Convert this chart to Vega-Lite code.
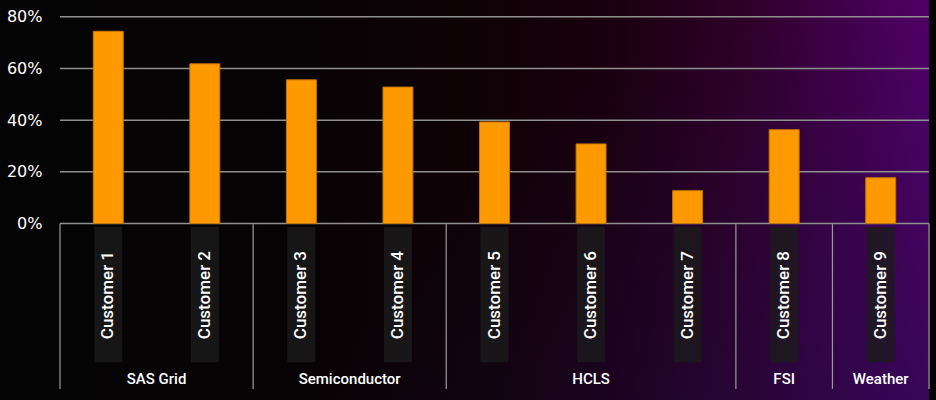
{
  "$schema": "https://vega.github.io/schema/vega-lite/v6.json",
  "width": 869,
  "height": 400,
  "autosize": {"type": "none"},
  "padding": {"left": 60, "top": 0, "right": 7, "bottom": 0},
  "background": "#050405",
  "config": {"view": {"stroke": null}},
  "data": {
    "values": [
      {"customer": "Customer 1", "group": "SAS Grid", "value": 0.744},
      {"customer": "Customer 2", "group": "SAS Grid", "value": 0.618},
      {"customer": "Customer 3", "group": "Semiconductor", "value": 0.556},
      {"customer": "Customer 4", "group": "Semiconductor", "value": 0.528},
      {"customer": "Customer 5", "group": "HCLS", "value": 0.393},
      {"customer": "Customer 6", "group": "HCLS", "value": 0.308},
      {"customer": "Customer 7", "group": "HCLS", "value": 0.127},
      {"customer": "Customer 8", "group": "FSI", "value": 0.363},
      {"customer": "Customer 9", "group": "Weather", "value": 0.177}
    ]
  },
  "layer": [
    {
      "data": {"values": [{}]},
      "mark": {
        "type": "rect",
        "color": {
          "gradient": "linear",
          "x1": 0, "y1": 0, "x2": 1, "y2": 0,
          "stops": [
            {"offset": 0, "color": "#050405"},
            {"offset": 0.28, "color": "#070304"},
            {"offset": 0.5, "color": "#100206"},
            {"offset": 0.62, "color": "#18000d"},
            {"offset": 0.79, "color": "#2f0028"},
            {"offset": 0.92, "color": "#44004f"},
            {"offset": 1, "color": "#510067"}
          ]
        }
      },
      "encoding": {}
    },
    {
      "data": {"values": [{}]},
      "mark": {
        "type": "rect",
        "color": {
          "gradient": "radial",
          "x1": 1, "y1": 1, "r1": 0,
          "x2": 1, "y2": 1, "r2": 0.75,
          "stops": [
            {"offset": 0, "color": "rgba(30,12,74,0.75)"},
            {"offset": 1, "color": "rgba(30,12,74,0)"}
          ]
        }
      },
      "encoding": {}
    },
    {
      "data": {"values": [{"tick": 0}, {"tick": 0.2}, {"tick": 0.4}, {"tick": 0.6}, {"tick": 0.8}]},
      "mark": {"type": "rule", "color": "#8f8f8f", "strokeWidth": 1.5},
      "encoding": {
        "y": {"field": "tick", "type": "quantitative"}
      }
    },
    {
      "mark": {"type": "bar", "color": "#1c1c1c", "opacity": 0.8, "width": {"band": 0.29}},
      "encoding": {
        "x": {"field": "customer", "type": "nominal", "sort": null, "axis": null,
              "scale": {"paddingInner": 0, "paddingOuter": 0}},
        "y": {"datum": -0.0135, "type": "quantitative"},
        "y2": {"datum": -0.537}
      }
    },
    {
      "mark": {"type": "bar", "color": "#ff9900", "stroke": "#c47700", "strokeWidth": 1, "width": {"band": 0.31}},
      "encoding": {
        "x": {"field": "customer", "type": "nominal", "sort": null, "axis": null},
        "y": {
          "field": "value", "type": "quantitative", "title": null,
          "scale": {"domain": [-0.683, 0.865], "nice": false, "zero": false},
          "axis": {
            "values": [0, 0.2, 0.4, 0.6, 0.8],
            "format": ".0%",
            "grid": false, "domain": false, "ticks": false,
            "labelPadding": 18, "labelFontSize": 16, "labelFont": "DejaVu Sans",
            "labelColor": "#ffffff", "labelFontWeight": 500, "title": null
          }
        }
      }
    },
    {
      "transform": [
        {"window": [{"op": "row_number", "as": "r"}], "groupby": ["group"]},
        {"filter": "datum.r == 1"}
      ],
      "mark": {"type": "rule", "color": "#9a9a9a", "strokeWidth": 1.2},
      "encoding": {
        "x": {"field": "customer", "type": "nominal", "sort": null, "bandPosition": 0},
        "y": {"datum": 0, "type": "quantitative"},
        "y2": {"datum": -0.64}
      }
    },
    {
      "transform": [
        {"window": [{"op": "row_number", "as": "r"}]},
        {"joinaggregate": [{"op": "count", "as": "n"}]},
        {"filter": "datum.r == datum.n"}
      ],
      "mark": {"type": "rule", "color": "#9a9a9a", "strokeWidth": 1.2},
      "encoding": {
        "x": {"field": "customer", "type": "nominal", "sort": null, "bandPosition": 1},
        "y": {"datum": 0, "type": "quantitative"},
        "y2": {"datum": -0.64}
      }
    },
    {
      "mark": {"type": "text", "angle": 270, "align": "center", "baseline": "middle",
               "font": "Roboto", "fontSize": 17, "fontWeight": 500, "color": "#ffffff"},
      "encoding": {
        "x": {"field": "customer", "type": "nominal", "sort": null},
        "y": {"datum": -0.277, "type": "quantitative"},
        "text": {"field": "customer"}
      }
    },
    {
      "transform": [
        {"window": [{"op": "row_number", "as": "r"}], "groupby": ["group"]},
        {"joinaggregate": [{"op": "count", "as": "n"}], "groupby": ["group"]},
        {"filter": "datum.n % 2 == 0 && datum.r == datum.n / 2 + 1"}
      ],
      "mark": {"type": "text", "align": "center", "baseline": "middle",
               "font": "Roboto", "fontSize": 15, "fontWeight": 500, "color": "#ffffff"},
      "encoding": {
        "x": {"field": "customer", "type": "nominal", "sort": null, "bandPosition": 0},
        "y": {"datum": -0.602, "type": "quantitative"},
        "text": {"field": "group"}
      }
    },
    {
      "transform": [
        {"window": [{"op": "row_number", "as": "r"}], "groupby": ["group"]},
        {"joinaggregate": [{"op": "count", "as": "n"}], "groupby": ["group"]},
        {"filter": "datum.n % 2 == 1 && datum.r == (datum.n + 1) / 2"}
      ],
      "mark": {"type": "text", "align": "center", "baseline": "middle",
               "font": "Roboto", "fontSize": 15, "fontWeight": 500, "color": "#ffffff"},
      "encoding": {
        "x": {"field": "customer", "type": "nominal", "sort": null, "bandPosition": 0.5},
        "y": {"datum": -0.602, "type": "quantitative"},
        "text": {"field": "group"}
      }
    }
  ]
}
